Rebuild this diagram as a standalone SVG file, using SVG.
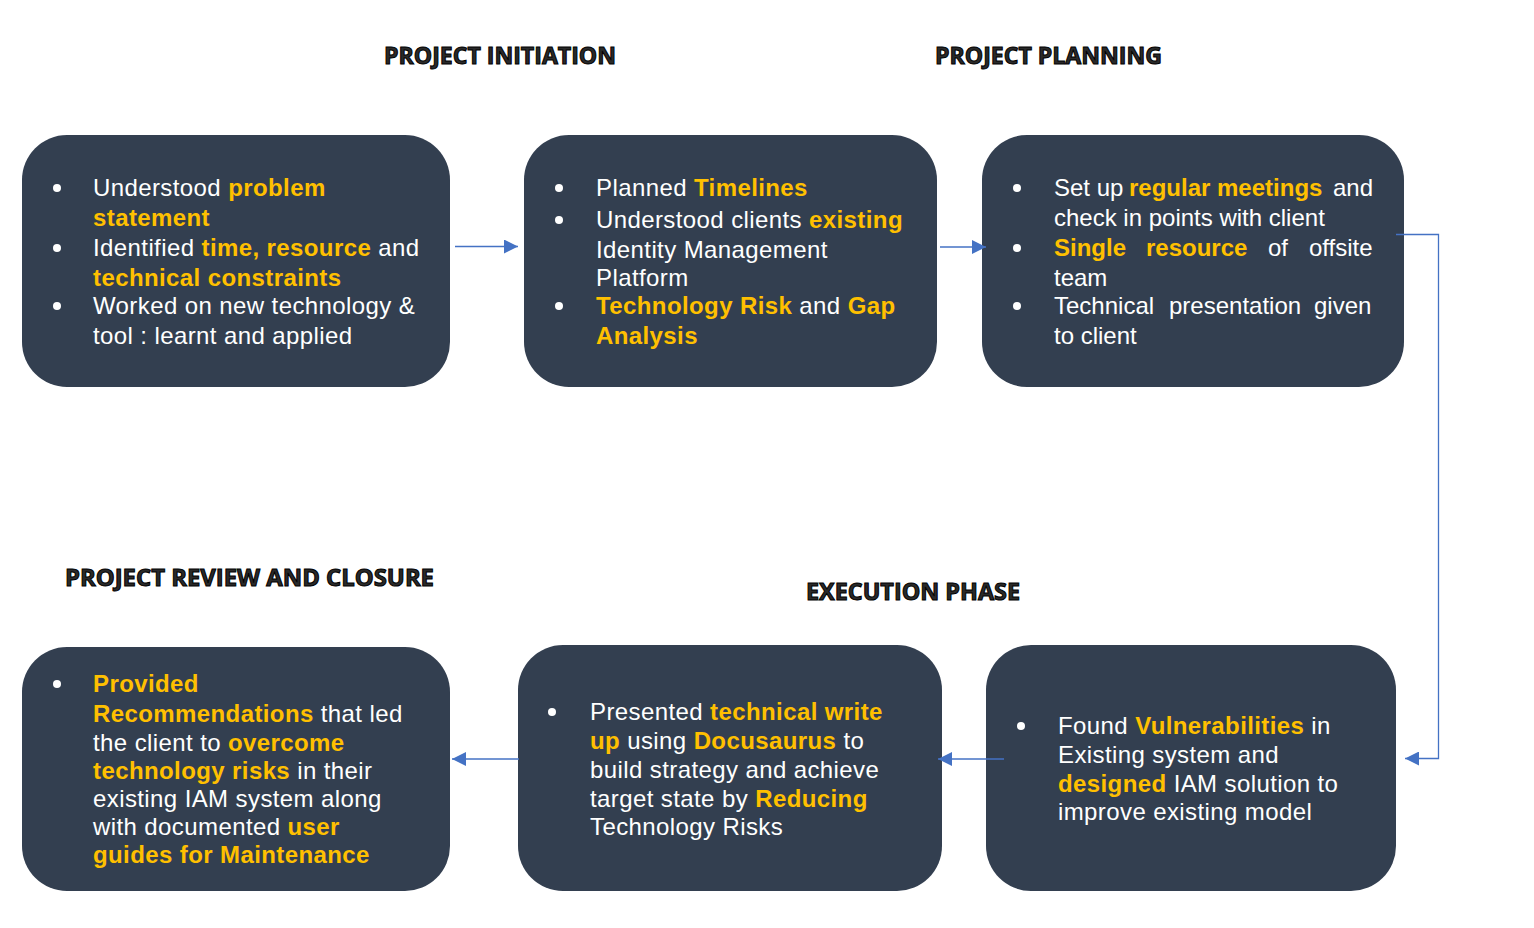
<svg xmlns="http://www.w3.org/2000/svg" width="1534" height="928" viewBox="0 0 1534 928">
  <defs>
    <style>
      .box { fill: #333F50; }
      .t { font-family: "Liberation Sans", Arial, sans-serif; font-size: 24px; letter-spacing: 0.4px; fill: #FFFFFF; }
      .j { letter-spacing: 0; }
      .y { font-weight: bold; fill: #FFC000; }
      .dot { fill: #FFFFFF; }
      .h { font-family: "Open Sans", "Liberation Sans", sans-serif; font-weight: bold; font-size: 23px; fill: #2a2a2a; stroke: #000000; stroke-width: 1; }
      .c { fill: none; stroke: #4472C4; stroke-width: 1.3; }
    </style>
    <marker id="arr" markerUnits="userSpaceOnUse" markerWidth="15" markerHeight="14" refX="14" refY="7" orient="auto">
      <path d="M0,0 L14,7 L0,14 Z" fill="#4472C4"/>
    </marker>
  </defs>
  <rect width="1534" height="928" fill="#FFFFFF"/>

  <g id="headings">
    <text class="h" x="384" y="64" textLength="232" lengthAdjust="spacingAndGlyphs">PROJECT INITIATION</text>
    <text class="h" x="935" y="64" textLength="227" lengthAdjust="spacingAndGlyphs">PROJECT PLANNING</text>
    <text class="h" x="65" y="586" textLength="369" lengthAdjust="spacingAndGlyphs">PROJECT REVIEW AND CLOSURE</text>
    <text class="h" x="806" y="600" textLength="214" lengthAdjust="spacingAndGlyphs">EXECUTION PHASE</text>
  </g>

  <g id="node-initiation">
    <rect class="box" x="22" y="135" width="428" height="252" rx="45"/>
    <circle class="dot" cx="57" cy="188" r="4"/>
    <circle class="dot" cx="57" cy="248" r="4"/>
    <circle class="dot" cx="57" cy="306" r="4"/>
    <text class="t" x="93" y="196">Understood <tspan class="y">problem</tspan></text>
    <text class="t" x="93" y="226"><tspan class="y">statement</tspan></text>
    <text class="t" x="93" y="256">Identified <tspan class="y">time, resource</tspan> and</text>
    <text class="t" x="93" y="286"><tspan class="y">technical constraints</tspan></text>
    <text class="t" x="93" y="314">Worked on new technology &amp;</text>
    <text class="t" x="93" y="344">tool : learnt and applied</text>
  </g>

  <g id="node-planning-1">
    <rect class="box" x="524" y="135" width="413" height="252" rx="45"/>
    <circle class="dot" cx="559" cy="188" r="4"/>
    <circle class="dot" cx="559" cy="220" r="4"/>
    <circle class="dot" cx="559" cy="306" r="4"/>
    <text class="t" x="596" y="196">Planned <tspan class="y">Timelines</tspan></text>
    <text class="t" x="596" y="228">Understood clients <tspan class="y">existing</tspan></text>
    <text class="t" x="596" y="258">Identity Management</text>
    <text class="t" x="596" y="286">Platform</text>
    <text class="t" x="596" y="314"><tspan class="y">Technology Risk</tspan> and <tspan class="y">Gap</tspan></text>
    <text class="t" x="596" y="344"><tspan class="y">Analysis</tspan></text>
  </g>

  <g id="node-planning-2">
    <rect class="box" x="982" y="135" width="422" height="252" rx="45"/>
    <circle class="dot" cx="1017" cy="188" r="4"/>
    <circle class="dot" cx="1017" cy="248" r="4"/>
    <circle class="dot" cx="1017" cy="306" r="4"/>
    <text class="t j" y="196"><tspan x="1054">Set up</tspan><tspan class="y" x="1129">regular meetings</tspan><tspan x="1333">and</tspan></text>
    <text class="t j" x="1054" y="226">check in points with client</text>
    <text class="t j" y="256"><tspan class="y" x="1054">Single</tspan><tspan class="y" x="1146">resource</tspan><tspan x="1268">of</tspan><tspan x="1309">offsite</tspan></text>
    <text class="t j" x="1054" y="286">team</text>
    <text class="t j" y="314"><tspan x="1054">Technical</tspan><tspan x="1169">presentation</tspan><tspan x="1314">given</tspan></text>
    <text class="t j" x="1054" y="344">to client</text>
  </g>

  <g id="node-execution">
    <rect class="box" x="986" y="645" width="410" height="246" rx="45"/>
    <circle class="dot" cx="1021" cy="726" r="4"/>
    <text class="t" x="1058" y="734">Found <tspan class="y">Vulnerabilities</tspan> in</text>
    <text class="t" x="1058" y="763">Existing system and</text>
    <text class="t" x="1058" y="792"><tspan class="y">designed</tspan> IAM solution to</text>
    <text class="t" x="1058" y="820">improve existing model</text>
  </g>

  <g id="node-writeup">
    <rect class="box" x="518" y="645" width="424" height="246" rx="45"/>
    <circle class="dot" cx="552" cy="712" r="4"/>
    <text class="t" x="590" y="720">Presented <tspan class="y">technical write</tspan></text>
    <text class="t" x="590" y="749"><tspan class="y">up</tspan> using <tspan class="y">Docusaurus</tspan> to</text>
    <text class="t" x="590" y="778">build strategy and achieve</text>
    <text class="t" x="590" y="807">target state by <tspan class="y">Reducing</tspan></text>
    <text class="t" x="590" y="835">Technology Risks</text>
  </g>

  <g id="node-closure">
    <rect class="box" x="22" y="647" width="428" height="244" rx="45"/>
    <circle class="dot" cx="57" cy="684" r="4"/>
    <text class="t" x="93" y="692"><tspan class="y">Provided</tspan></text>
    <text class="t" x="93" y="722"><tspan class="y">Recommendations</tspan> that led</text>
    <text class="t" x="93" y="751">the client to <tspan class="y">overcome</tspan></text>
    <text class="t" x="93" y="779"><tspan class="y">technology risks</tspan> in their</text>
    <text class="t" x="93" y="807">existing IAM system along</text>
    <text class="t" x="93" y="835">with documented <tspan class="y">user</tspan></text>
    <text class="t" x="93" y="863"><tspan class="y">guides for Maintenance</tspan></text>
  </g>

  <g id="connectors">
    <path class="c" d="M455,246.5 L518,246.5" marker-end="url(#arr)"/>
    <path class="c" d="M940,247 L986,247" marker-end="url(#arr)"/>
    <path class="c" d="M1396,234.5 L1438.5,234.5 L1438.5,758.5 L1405,758.5" marker-end="url(#arr)"/>
    <path class="c" d="M1004,759 L938,759" marker-end="url(#arr)"/>
    <path class="c" d="M519,759 L452,759" marker-end="url(#arr)"/>
  </g>
</svg>
